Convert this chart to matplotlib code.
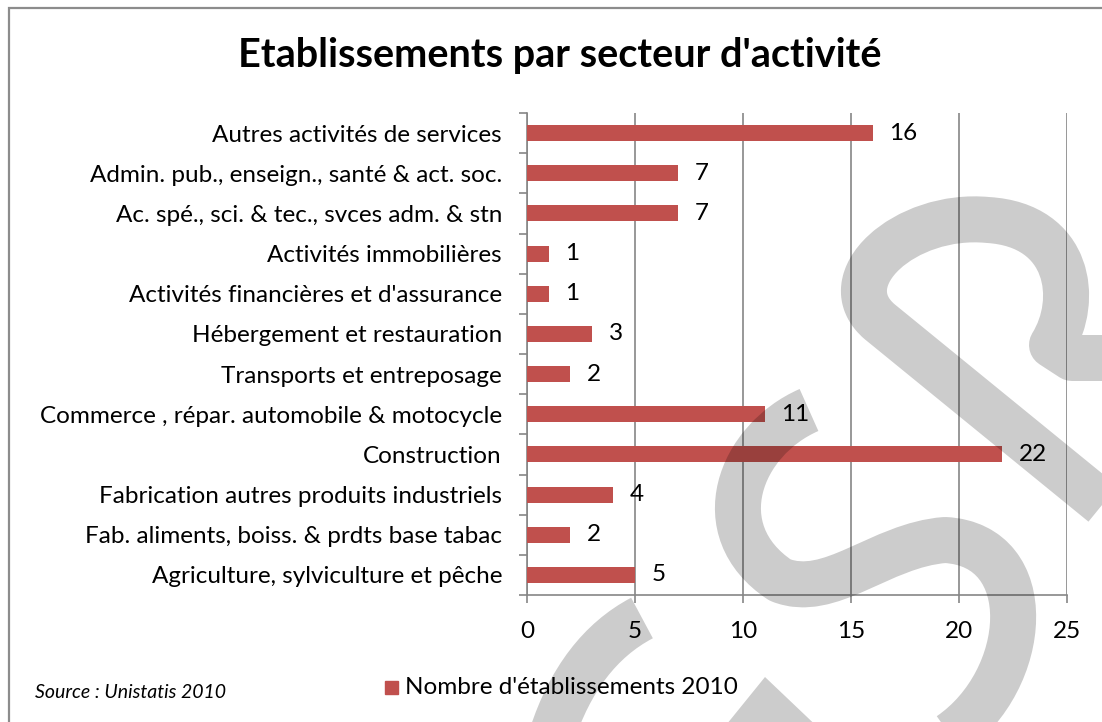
import matplotlib
matplotlib.use("Agg")
import matplotlib.pyplot as plt
from matplotlib.path import Path
from matplotlib.patches import PathPatch, Polygon, Rectangle

# data (bottom to top as drawn)
categories = [
    "Agriculture, sylviculture et pêche",
    "Fab. aliments, boiss. & prdts base tabac",
    "Fabrication autres produits industriels",
    "Construction",
    "Commerce , répar. automobile & motocycle",
    "Transports et entreposage",
    "Hébergement et restauration",
    "Activités financières et d'assurance",
    "Activités immobilières",
    "Ac. spé., sci. & tec., svces adm. & stn",
    "Admin. pub., enseign., santé & act. soc.",
    "Autres activités de services",
]
values = [5, 2, 4, 22, 11, 2, 3, 1, 1, 7, 7, 16]
x_ticks = [0, 5, 10, 15, 20, 25]
series_name = "Nombre d'établissements 2010"
title = "Etablissements par secteur d'activité"
source = "Source : Unistatis 2010"

W, H = 1102, 722
plt.rcParams['font.family'] = ['Lato', 'DejaVu Sans']
fig = plt.figure(figsize=(W / 100, H / 100), dpi=100)

red = "#C0504D"
grey = "#868686"
fs = 17.5

# axes: x 527..1067 px, y 113..595 px
ax = fig.add_axes([527 / W, 1 - 595 / H, 540 / W, 482 / H])
ypos = list(range(len(categories)))
ax.barh(ypos, values, height=0.4, color=red, zorder=3)
ax.set_xlim(0, 25)
ax.set_ylim(-0.5, len(categories) - 0.5)
ax.set_xticks(x_ticks)
ax.set_xticklabels([str(t) for t in x_ticks], fontsize=fs)
ax.set_yticks(ypos)
ax.set_yticklabels(categories, fontsize=fs)
ax.tick_params(axis='y', length=0, pad=18)
ax.tick_params(axis='x', length=6, width=1.2, color=grey, pad=12.5)
ax.set_yticks([i - 0.5 for i in range(len(categories) + 1)], minor=True)
ax.tick_params(axis='y', which='minor', length=6, width=1.2, color=grey)
ax.grid(axis='x', color=grey, linewidth=1.2, zorder=0)
for s in ['top', 'right']:
    ax.spines[s].set_visible(False)
for s in ['left', 'bottom']:
    ax.spines[s].set_color(grey)
    ax.spines[s].set_linewidth(1.2)

for y, v in zip(ypos, values):
    ax.annotate(str(v), (v, y), xytext=(12, 0), textcoords='offset points',
                va='center', ha='left', fontsize=fs)

fig.text(560 / W, 1 - 55 / H, title, ha='center', va='center',
         fontsize=28.5, fontweight='bold')

# legend + source
fig.patches.append(Rectangle((385 / W, 1 - 694 / H), 13 / W, 13 / H,
                             transform=fig.transFigure, color=red))
fig.text(405 / W, 1 - 688 / H, series_name, ha='left', va='center', fontsize=fs)
fig.text(35 / W, 1 - 692 / H, source, ha='left', va='center', fontsize=14,
         style='italic')

# outer frame
fig.patches.append(Rectangle((9 / W, -0.1), 1.2, 1 - 8 / H + 0.1,
                             transform=fig.transFigure, fill=False,
                             edgecolor="#8c8c8c", linewidth=1.6))

# watermark overlay (pixel coordinates)
wm = fig.add_axes([0, 0, 1, 1], zorder=10)
wm.set_xlim(0, W)
wm.set_ylim(H, 0)
wm.axis('off')
wm.patch.set_alpha(0)
M, L, C = Path.MOVETO, Path.LINETO, Path.CURVE4
strokes = [
    # P
    ([(1140, 534), (880, 322), (830, 280), (905, 212), (988, 220),
      (1070, 225), (1080, 300), (1052, 345), (1072, 358), (1110, 358)],
     [M, L, C, C, C, C, C, C, L, L]),
    # S
    ([(809, 410), (740, 440), (705, 530), (780, 580),
      (830, 600), (880, 545), (945, 540),
      (1040, 545), (1030, 680), (950, 735)],
     [M, C, C, C, C, C, C, C, C, C]),
    # left arc
    ([(642, 618), (600, 640), (570, 680), (552, 735)],
     [M, C, C, C]),
]
for verts, codes in strokes:
    wm.add_patch(PathPatch(Path(verts, codes), fill=False, edgecolor='black',
                           alpha=0.2, linewidth=46 * 0.72, capstyle='butt',
                           joinstyle='round'))
wm.add_patch(Polygon([(765, 677), (718, 735), (826, 735)], closed=True,
                     color='black', alpha=0.2, linewidth=0))

fig.savefig("out.png", dpi=100)
